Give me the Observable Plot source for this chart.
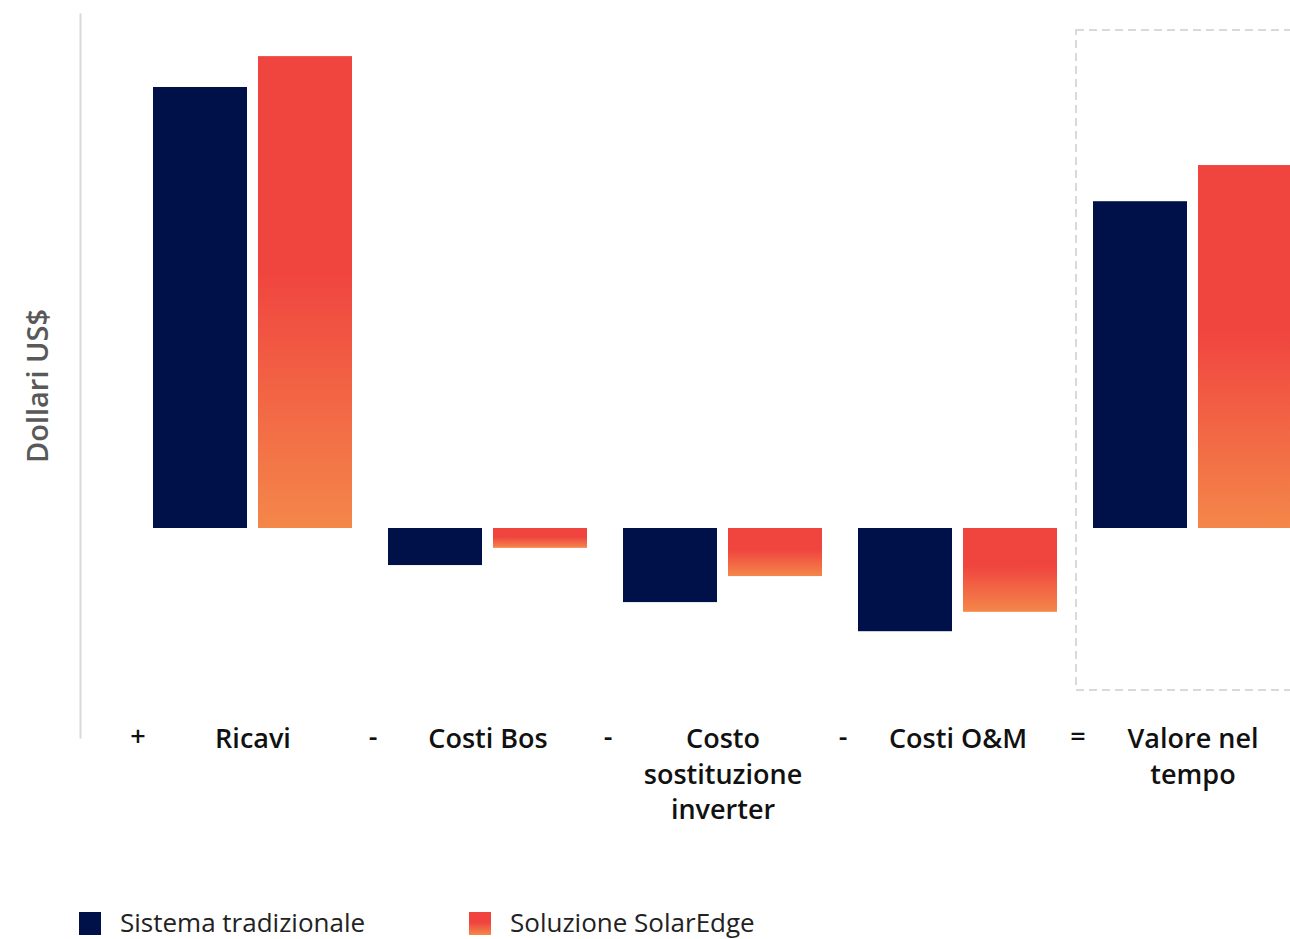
<!DOCTYPE html>
<html>
<head>
<meta charset="utf-8">
<script src="https://cdn.jsdelivr.net/npm/d3@7"></script>
<script src="https://cdn.jsdelivr.net/npm/@observablehq/plot@0.6"></script>
<style>
  html, body { margin: 0; padding: 0; background: #fff; overflow: hidden; }
  body { font-family: "Open Sans", sans-serif; width: 1290px; height: 939px; }
  #chart svg { max-width: none !important; display: block; }
  .legend { display: flex; align-items: flex-end; padding-left: 79px; margin-top: 9px; height: 46px; }
  .legend .item { display: flex; align-items: flex-end; }
  .legend .sw { width: 22px; height: 23px; margin-right: 19px; flex: none; }
  .legend .lbl { font-size: 26px; color: #222; line-height: 23px; position: relative; top: -1px; white-space: nowrap; }
</style>
</head>
<body>
<div id="chart"></div>
<div class="legend">
  <div class="item" style="width:390px"><div class="sw" style="background:#001049"></div><div class="lbl">Sistema tradizionale</div></div>
  <div class="item"><div class="sw" style="background:linear-gradient(#F0443F 45%, #F4874A)"></div><div class="lbl">Soluzione SolarEdge</div></div>
</div>
<script>
const categories = ["Ricavi", "Costi Bos", "Costo sostituzione inverter", "Costi O&M", "Valore nel tempo"];
const categoryLabels = ["Ricavi", "Costi Bos", "Costo\nsostituzione\ninverter", "Costi O&M", "Valore nel\ntempo"];
const operators = ["+", "-", "-", "-", "="];
const tradizionale = [100, -8.4, -16.8, -23.4, 74.1];
const solarEdge = [107, -4.5, -10.9, -19.0, 82.3];
const seriesNames = ["Sistema tradizionale", "Soluzione SolarEdge"];
const yLabel = "Dollari US$";

const rows = categories.map((c, i) => ({
  cat: c, label: categoryLabels[i], op: operators[i], trad: tradizionale[i], se: solarEdge[i]
}));
const highlight = rows.filter(d => d.op === "=");

const svg = Plot.plot({
  width: 1364,
  height: 880,
  marginLeft: 80,
  marginRight: 0,
  marginTop: 14,
  marginBottom: 143,
  style: { fontFamily: "Open Sans, sans-serif", maxWidth: "none", background: "#fff" },
  x: { domain: categories, axis: null, paddingInner: 0.155, paddingOuter: 0.303 },
  y: { domain: [-47.39, 116.55], axis: null },
  marks: [
    Plot.frame({ anchor: "left", stroke: "#d9d9d5", strokeWidth: 2 }),
    Plot.cell(highlight, { x: "cat", fill: "none", stroke: "#d9d9d9", strokeWidth: 2, strokeDasharray: "8,5",
      insetLeft: -17, insetRight: -17, insetTop: 16, insetBottom: 47 }),
    Plot.barY(rows, { x: "cat", y: "trad", fill: "#001049", insetRight: 105, title: d => seriesNames[0] }),
    Plot.barY(rows, { x: "cat", y: "se", fill: "url(#seGrad)", insetLeft: 105, title: d => seriesNames[1] }),
    Plot.text(rows, { x: "cat", text: "label", frameAnchor: "bottom", lineAnchor: "top", dy: -14,
      fontSize: 27, fontWeight: 600, lineHeight: 1.3, fill: "#111" }),
    Plot.text(rows, { x: "cat", text: "op", frameAnchor: "bottom", lineAnchor: "top", dy: -11, dx: -115,
      fontSize: 27, fontWeight: 600, fill: "#111" }),
    Plot.text([yLabel], { text: d => d, frameAnchor: "left", textAnchor: "middle", lineAnchor: "middle",
      rotate: -90, dx: -42, dy: 10, fontSize: 29, fontWeight: 600, fill: "#595959" })
  ]
});

const defs = d3.select(svg).insert("defs", ":first-child");
const g = defs.append("linearGradient").attr("id", "seGrad").attr("x1", 0).attr("y1", 0).attr("x2", 0).attr("y2", 1);
g.append("stop").attr("offset", "0%").attr("stop-color", "#F0443F");
g.append("stop").attr("offset", "45%").attr("stop-color", "#F0443F");
g.append("stop").attr("offset", "100%").attr("stop-color", "#F4874A");

document.getElementById("chart").appendChild(svg);
</script>
</body>
</html>
